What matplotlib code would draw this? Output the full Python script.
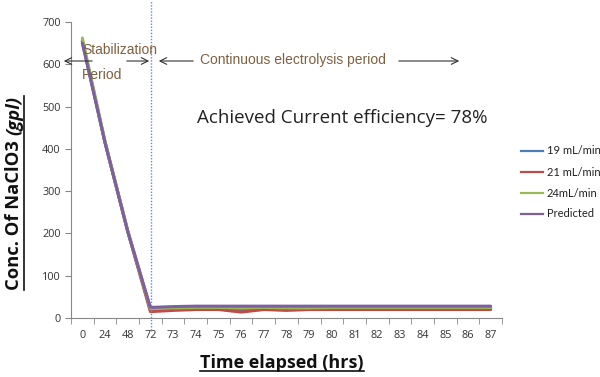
import matplotlib
matplotlib.use("Agg")
import matplotlib.pyplot as plt
from matplotlib.lines import Line2D

categories = ["0", "24", "48", "72", "73", "74", "75", "76", "77", "78", "79",
              "80", "81", "82", "83", "84", "85", "86", "87"]
s19 = [655, 415, 205, 20, 21, 22, 22, 19, 22, 22, 21, 22, 22, 22, 21, 22, 22, 22, 22]
s21 = [655, 415, 205, 15, 18, 20, 20, 14, 20, 18, 20, 20, 20, 20, 20, 20, 20, 20, 20]
s24 = [662, 418, 207, 22, 24, 25, 25, 24, 25, 24, 24, 25, 25, 25, 25, 25, 25, 25, 25]
pred = [650, 415, 205, 25, 27, 28, 28, 28, 28, 28, 28, 28, 28, 28, 28, 28, 28, 28, 28]
series_names = ["19 mL/min", "21 mL/min", "24mL/min", "Predicted"]
colors = ["#4A7EBB", "#BE4B48", "#98B954", "#7D60A0"]
yticks = [0, 100, 200, 300, 400, 500, 600, 700]

W, H = 600, 377
fig = plt.figure(figsize=(6, 3.77), dpi=100)
ax = fig.add_axes([71 / W, 1 - 318 / H, (502 - 71) / W, (318 - 22) / H])

x = list(range(len(categories)))
for data, c, name in zip([s19, s21, s24, pred], colors, series_names):
    ax.plot(x, data, color=c, lw=2.2, label=name, solid_capstyle="round")

ax.set_xlim(-0.5, len(categories) - 0.5)
ax.set_ylim(0, 700)
ax.set_yticks(yticks)
ax.set_xticks(x)
ax.set_xticklabels(categories)
ax.set_xticks([i - 0.5 for i in range(len(categories) + 1)], minor=True)
ax.tick_params(axis="x", which="major", length=0, labelsize=7.8, colors="#333333", pad=9)
ax.tick_params(axis="x", which="minor", length=4, color="#888888", direction="out")
ax.tick_params(axis="y", length=4, color="#888888", labelsize=7.8, labelcolor="#333333")
for lab in ax.get_xticklabels() + ax.get_yticklabels():
    lab.set_family("Open Sans")
for sp in ["top", "right"]:
    ax.spines[sp].set_visible(False)
ax.spines["left"].set_color("#888888")
ax.spines["bottom"].set_color("#888888")

# vertical dotted divider at category 72
fig.add_artist(Line2D([151 / W, 151 / W], [1 - 330 / H, 1.0], color="#5B8BD0",
                      lw=1.0, ls=(0, (1, 1.2)), transform=fig.transFigure))

brown = "#7F6040"
def fx(px):
    return px / W
def fy(py):
    return 1 - py / H

fig.text(fx(82), fy(50), "Stabilization", color=brown, fontsize=10, va="center",
         family="Liberation Sans")
fig.text(fx(82), fy(75), "Period", color=brown, fontsize=10, va="center",
         family="Liberation Sans")
arrow_kw = dict(arrowstyle="->", color="#333333", lw=0.8, mutation_scale=12)
fig.add_artist(matplotlib.patches.FancyArrowPatch((fx(95), fy(61)), (fx(61), fy(61)),
               transform=fig.transFigure, **arrow_kw))
fig.add_artist(matplotlib.patches.FancyArrowPatch((fx(124), fy(61)), (fx(152), fy(61)),
               transform=fig.transFigure, **arrow_kw))
fig.add_artist(matplotlib.patches.FancyArrowPatch((fx(196), fy(61)), (fx(156), fy(61)),
               transform=fig.transFigure, **arrow_kw))
fig.add_artist(matplotlib.patches.FancyArrowPatch((fx(396), fy(61)), (fx(462), fy(61)),
               transform=fig.transFigure, **arrow_kw))
fig.text(fx(200), fy(60), "Continuous electrolysis period", color=brown, fontsize=10,
         va="center", family="Liberation Sans")

fig.text(fx(197), fy(118), "Achieved Current efficiency= 78%", color="#222222",
         fontsize=13.5, va="center", family="Open Sans")

# legend
leg_rows = [151, 172, 193, 214]
for yy, c, name in zip(leg_rows, colors, series_names):
    fig.add_artist(Line2D([fx(521), fx(543)], [fy(yy), fy(yy)], color=c, lw=1.6,
                          transform=fig.transFigure))
    fig.text(fx(547), fy(yy), name, fontsize=8, va="center", color="#222222",
             family="Lato")

# axis labels with underline
fig.canvas.draw()
renderer = fig.canvas.get_renderer()

xl = fig.text(fx(282), fy(363), "Time elapsed (hrs)", fontsize=13, fontweight="bold",
              ha="center", va="center", family="Open Sans", color="#111111")
bb = xl.get_window_extent(renderer)
fig.add_artist(Line2D([bb.x0 / W, bb.x1 / W], [(bb.y0 + 1) / H, (bb.y0 + 1) / H],
                      color="#111111", lw=1.2, transform=fig.transFigure))

y1 = fig.text(fx(14), fy(290), "Conc. Of NaClO3 ", fontsize=13.2, fontweight="bold",
              rotation=90, ha="center", va="bottom", family="Open Sans", color="#111111")
b1 = y1.get_window_extent(renderer)
y2 = fig.text(fx(14), b1.y1 / H, "(gpl)", fontsize=13.2, fontweight="bold", style="italic",
              rotation=90, ha="center", va="bottom", family="Open Sans", color="#111111")
b2 = y2.get_window_extent(renderer)
ux = (b1.x1 + 0.5) / W
fig.add_artist(Line2D([ux, ux], [b1.y0 / H, b2.y1 / H], color="#111111", lw=1.2,
                      transform=fig.transFigure))

fig.savefig("out.png", dpi=100)
